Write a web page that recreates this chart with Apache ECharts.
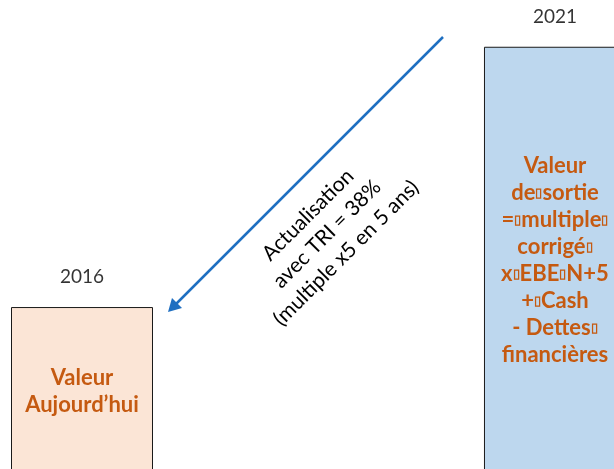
<!DOCTYPE html>
<html>
<head>
<meta charset="utf-8">
<script src="https://cdn.jsdelivr.net/npm/echarts@6/dist/echarts.min.js"></script>
<style>
  html, body { margin: 0; padding: 0; background: #fff; overflow: hidden; }
  #main { width: 614px; height: 482px; }
</style>
</head>
<body>
<div id="main"></div>
<script>
// données
var years = [2016, 2021];
var heights = [36.3, 90.3];
var barTexts = [
    "Valeur\nAujourd\u2019hui",
    "Valeur\nde{b|\u25AF}sortie\n={b|\u25AF}multiple{b|\u25AF}\ncorrig\u00E9{b|\u25AF}\nx{b|\u25AF}EBE{b|\u25AF}N+5\n+{b|\u25AF}Cash\n- Dettes{b|\u25AF}\nfinanci\u00E8res"
];
var barColors = ["#fbe5d6", "#bdd7ee"];
var arrowText = "Actualisation\navec TRI = 38%\n(multiple x5 en 5 ans)";

var fontName = "Lato, 'Open Sans', sans-serif";

var barData = [];
var yearData = [];
for (var i = 0; i < years.length; i++) {
    barData.push({
        value: [years[i], heights[i]],
        itemStyle: { color: barColors[i] },
        label: { formatter: barTexts[i], offset: i == 1 ? [0, -4] : [0, -3] }
    });
    yearData.push([years[i], heights[i]]);
}

var myChart = echarts.init(document.getElementById("main"));
myChart.setOption({
    animation: false,
    grid: { left: 0, right: 0, top: 0, bottom: 0 },
    xAxis: {
        type: "value",
        min: 2015.133,
        max: 2021.624,
        show: false
    },
    yAxis: {
        type: "value",
        min: 0,
        max: 100,
        show: false
    },
    series: [{
        type: "bar",
        barWidth: 142,
        data: barData,
        itemStyle: { borderColor: "#1a1a1a", borderWidth: 1 },
        label: {
            show: true,
            position: "inside",
            color: "#c55a11",
            fontFamily: fontName,
            fontWeight: "bold",
            fontSize: 22,
            lineHeight: 27,
            align: "center",
            rich: {
                b: {
                    fontSize: 13,
                    lineHeight: 27,
                    color: "#c55a11",
                    fontFamily: fontName
                }
            }
        }
    }, {
        type: "scatter",
        symbolSize: 1,
        itemStyle: { color: "transparent" },
        data: yearData,
        label: {
            show: true,
            position: "top",
            distance: 20,
            color: "#000",
            fontFamily: fontName,
            fontSize: 19,
            formatter: function (p) { return p.value[0]; }
        }
    }],
    graphic: [{
        type: "line",
        shape: { x1: 443, y1: 37, x2: 174, y2: 306 },
        style: { stroke: "#1f6fc1", lineWidth: 2.5 }
    }, {
        type: "polygon",
        shape: { points: [[168, 312], [172, 298], [182, 308]] },
        style: { fill: "#1f6fc1" }
    }, {
        type: "text",
        x: 327,
        y: 234,
        rotation: Math.PI / 4,
        style: {
            text: arrowText,
            font: "21px " + fontName,
            lineHeight: 27,
            fill: "#000",
            align: "center",
            verticalAlign: "middle"
        }
    }]
});
</script>
</body>
</html>
